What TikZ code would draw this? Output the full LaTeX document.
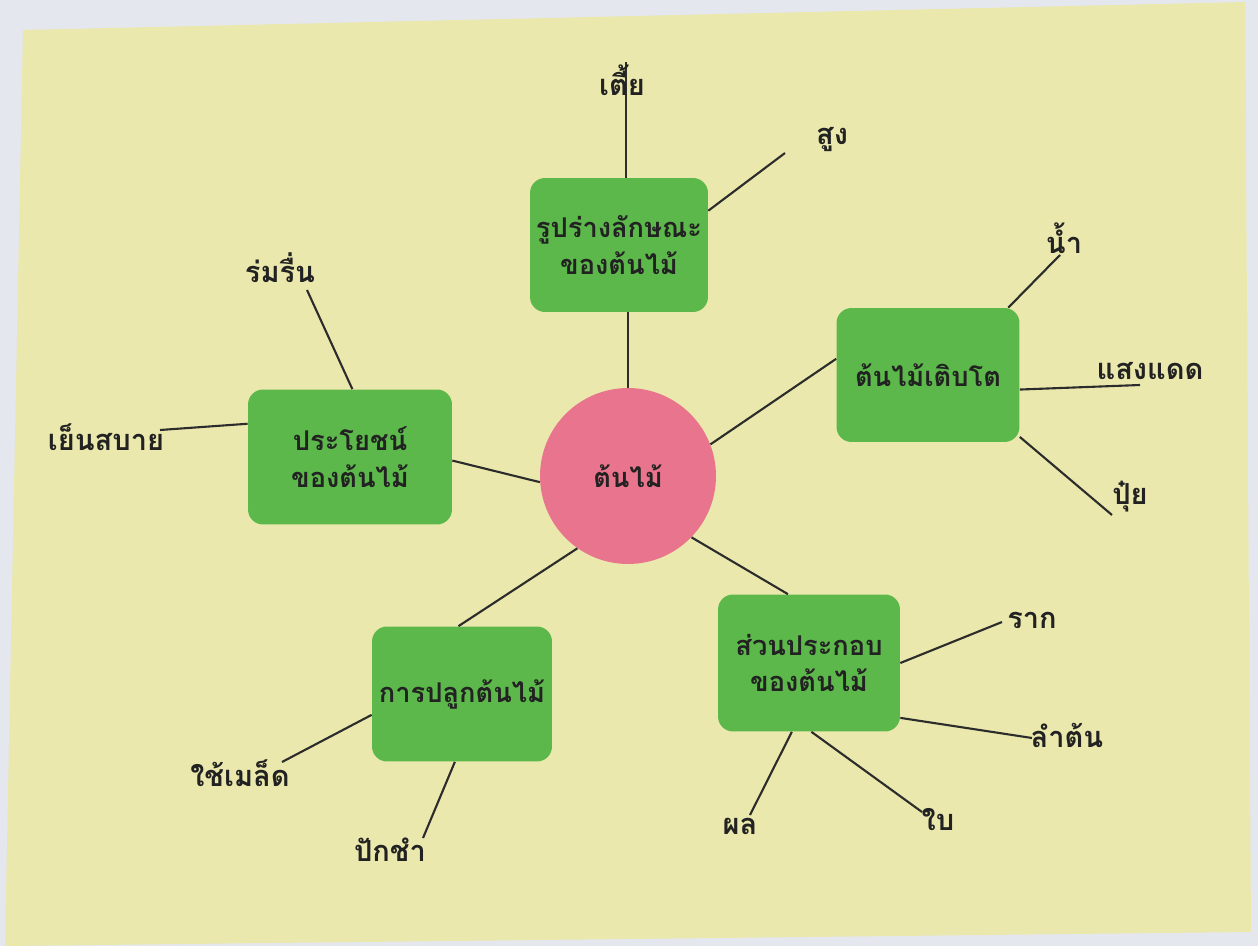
\documentclass[tikz,border=0pt]{standalone}
\usepackage{fontspec}
\newfontfamily\thai[Script=Thai]{Loma}
\definecolor{bgc}{HTML}{E4E7EE}
\definecolor{paper}{HTML}{EAE8AC}
\definecolor{boxg}{HTML}{5DB84B}
\definecolor{pinkc}{HTML}{E8748D}
\definecolor{ink}{HTML}{222222}
\definecolor{linec}{HTML}{2C2C2C}
\tikzset{
  topic/.style={fill=boxg, rounded corners=0.3cm, align=center, text=ink, font=\thai\bfseries\fontsize{15.5}{21}\selectfont, inner sep=0pt},
  leaf/.style={text=ink, font=\thai\bfseries\fontsize{16.5}{19}\selectfont, inner sep=1pt},
  conn/.style={draw=linec, line width=1.2pt},
}
\begin{document}
\begin{tikzpicture}[x=0.02cm,y=-0.02cm]
\useasboundingbox (0,0) rectangle (1258,946);
\fill[bgc] (0,0) rectangle (1258,946);
\fill[paper] (23,30) -- (1245,2) -- (1251,932) -- (5,946) -- cycle;

% centre and topics
\node[circle, fill=pinkc, minimum size=3.52cm, inner sep=0pt, text=ink, font=\thai\bfseries\fontsize{15.5}{19}\selectfont] (c) at (628,476) {ต้นไม้};
\node[topic, minimum width=3.56cm, minimum height=2.68cm] (b1) at (619,245) {รูปร่างลักษณะ\\ของต้นไม้};
\node[topic, minimum width=3.66cm, minimum height=2.68cm] (b2) at (928,375) {ต้นไม้เติบโต};
\node[topic, minimum width=4.08cm, minimum height=2.70cm] (b3) at (350,457) {ประโยชน์\\ของต้นไม้};
\node[topic, minimum width=3.60cm, minimum height=2.70cm] (b4) at (462,694) {การปลูกต้นไม้};
\node[topic, minimum width=3.64cm, minimum height=2.74cm] (b5) at (809,663) {ส่วนประกอบ\\ของต้นไม้};

% free ends of leaf connectors
\coordinate (e1) at (626,62);
\coordinate (e2) at (785,153);
\coordinate (e3) at (1060,255);
\coordinate (e4) at (1140,385);
\coordinate (e5) at (1112,515);
\coordinate (e6) at (307,290);
\coordinate (e7) at (160,430);
\coordinate (e8) at (282,762);
\coordinate (e9) at (423,838);
\coordinate (e10) at (1002,622);
\coordinate (e11) at (1032,738);
\coordinate (e12) at (750,815);
\coordinate (e13) at (922,812);

% connectors centre - topics
\draw[conn] (c.north) -- (c.north |- b1.south);
\draw[conn] (c.21) -- (b2.170);
\draw[conn] (c.184) -- (b3.-2);
\draw[conn] (c.235) -- (b4.93);
\draw[conn] (c.316) -- (b5.107);

% connectors topics - leaves
\draw[conn] (e1 |- b1.north) -- (e1);
\draw[conn] (b1.21.5) -- (e2);
\draw[conn] (b2.40) -- (e3);
\draw[conn] (b2.-9) -- (e4);
\draw[conn] (b2.-34) -- (e5);
\draw[conn] (b3.88) -- (e6);
\draw[conn] (b3.162) -- (e7);
\draw[conn] (b4.193) -- (e8);
\draw[conn] (b4.264) -- (e9);
\draw[conn] (b5.0) -- (e10);
\draw[conn] (b5.-31) -- (e11);
\draw[conn] (b5.256) -- (e12);
\draw[conn] (b5.272) -- (e13);

% leaves
\node[leaf] (l1) at (622,80) {เตี้ย};
\node[leaf] (l2) at (832,140) {สูง};
\node[leaf] (l3) at (1064,238) {น้ำ};
\node[leaf] (l4) at (1150,371) {แสงแดด};
\node[leaf] (l5) at (1130,497) {ปุ๋ย};
\node[leaf] (l6) at (280,268) {ร่มรื่น};
\node[leaf] (l7) at (106,437) {เย็นสบาย};
\node[leaf] (l8) at (240,773) {ใช้เมล็ด};
\node[leaf] (l9) at (390,850) {ปักชำ};
\node[leaf] (l10) at (1032,620) {ราก};
\node[leaf] (l11) at (1067,735) {ลำต้น};
\node[leaf] (l12) at (740,826) {ผล};
\node[leaf] (l13) at (938,820) {ใบ};
\end{tikzpicture}
\end{document}
